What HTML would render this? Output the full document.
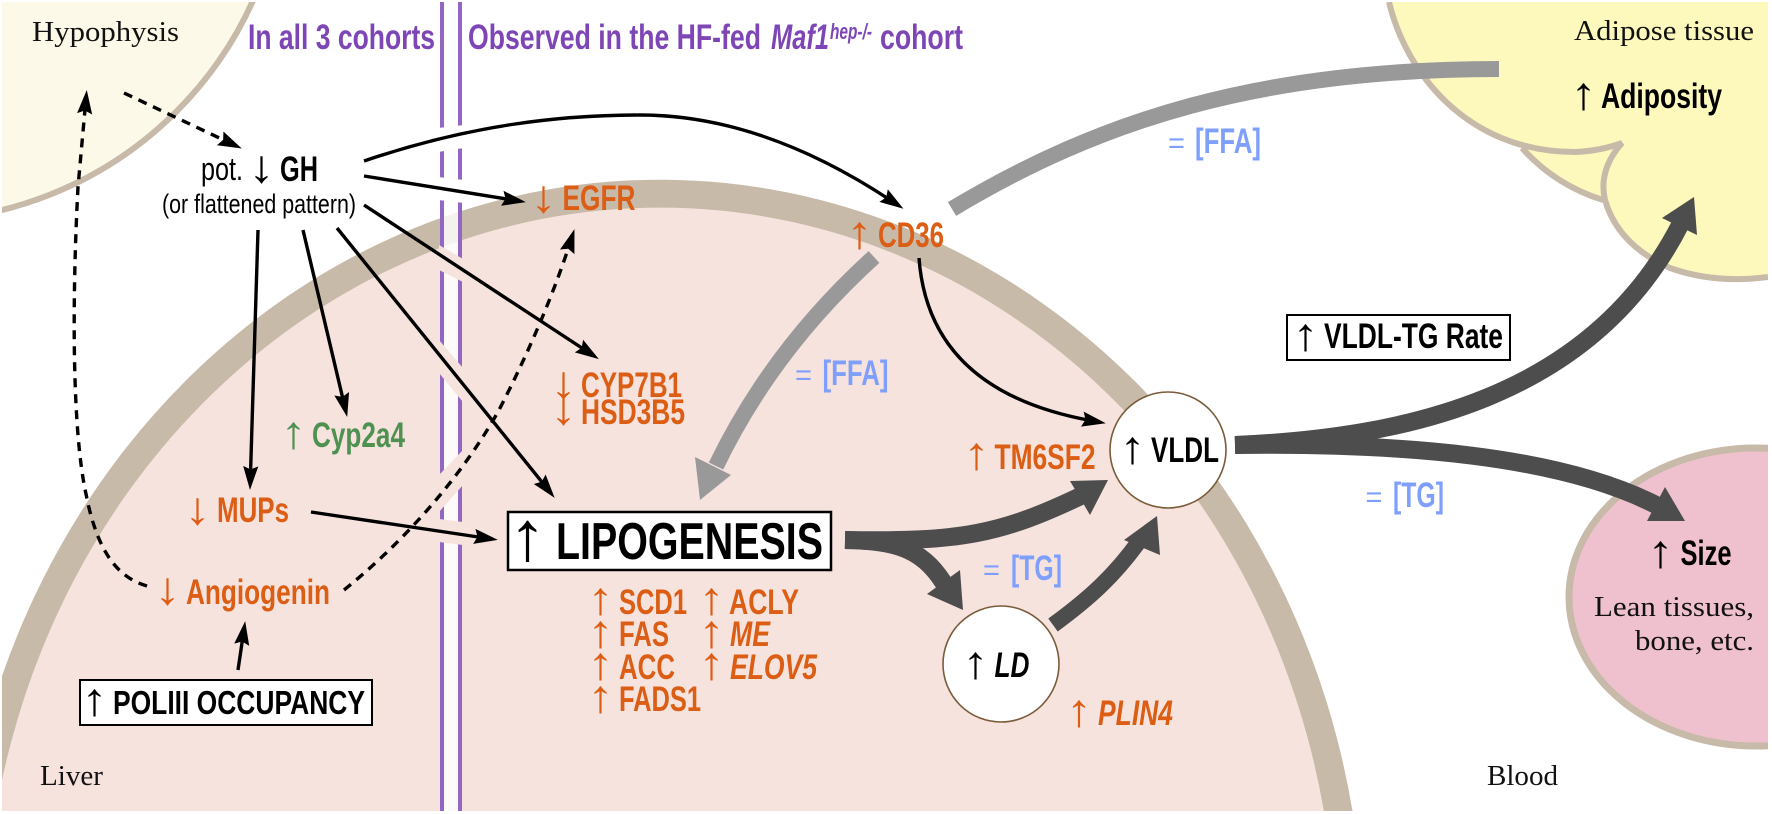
<!DOCTYPE html>
<html><head><meta charset="utf-8"><style>
html,body{margin:0;padding:0;background:#fff;width:1772px;height:814px;overflow:hidden}
svg{display:block}
text{font-family:"Liberation Sans",sans-serif}
.s{font-family:"Liberation Serif",serif;font-size:29px;fill:#111}
.b{font-weight:bold;font-size:35px}
.o{fill:#dc5d14}.g{fill:#4f9150}.k{fill:#000}.p{fill:#7d45b5}.u{fill:#7f9ffd}
.i{font-style:italic}
.a{font-size:46px;font-weight:normal}
.t{fill:none;stroke:#000;stroke-width:3.4}
.d{stroke-dasharray:9 7}
</style></head><body>
<svg width="1772" height="814" viewBox="0 0 1772 814" xmlns="http://www.w3.org/2000/svg">
<defs>
<clipPath id="c"><rect x="2" y="2" width="1766" height="809"/></clipPath>
<marker id="h" markerUnits="userSpaceOnUse" markerWidth="26" markerHeight="18" refX="10" refY="7" orient="auto" viewBox="0 0 24 14"><path d="M0 0L22 7L0 14L3 7z" fill="#000"/></marker>
</defs>
<g clip-path="url(#c)">
<circle cx="-88" cy="-153" r="374" fill="#fdf9e8" stroke="#c8baa9" stroke-width="6"/>
<path d="M2 811V676A704 770 0 0 1 1352.5 811Z" fill="#c8baa9"/>
<path d="M2 811V780A676 743 0 0 1 1323.9 811Z" fill="#f6e3de"/>
<path d="M1389 2C1405 70 1465 152 1575 152Q1600 151 1622 143Q1598 170 1605 200Q1618 245 1670 268Q1715 284 1768 277V2Z" fill="#fdf9bd"/>
<path d="M1522 148Q1555 185 1603 200L1610 170L1622 143L1575 152Z" fill="#fdf9bd"/>
<path d="M1389 2C1405 70 1465 152 1575 152Q1600 151 1622 143Q1598 170 1605 200Q1618 245 1670 268Q1715 284 1768 277M1522 148Q1555 185 1603 200" fill="none" stroke="#c8baa9" stroke-width="6"/>
<ellipse cx="1756" cy="597" rx="187" ry="149" fill="#efc1cf" stroke="#c8baa9" stroke-width="7"/>
</g>
<rect x="444" y="2" width="14" height="809" fill="#fff" opacity=".8"/>
<rect x="440" y="2" width="4" height="809" fill="#9466c4"/>
<rect x="458" y="2" width="4" height="809" fill="#9466c4"/>
<!-- halos -->
<path d="M438 128L464 125V148L438 152Z" fill="#fff"/>
<path d="M438 177L464 180V203L438 200Z" fill="#fff"/>
<path d="M439 245L463 259V282L439 270Z" fill="#f6e3de"/>
<path d="M439 340L463 368V402L439 373Z" fill="#f6e3de"/>
<path d="M439 475L463 450V485L439 512Z" fill="#f6e3de"/>
<path d="M439 519L463 522V545L439 542Z" fill="#f6e3de"/>
<!-- thick arrows -->
<path d="M874 257C810 315 755 385 716 466" fill="none" stroke="#999" stroke-width="16"/>
<path d="M700 500L695 457L731 475Z" fill="#999"/>
<path d="M952 209C1100 120 1260 69 1499 69" fill="none" stroke="#999" stroke-width="16"/>
<g fill="none" stroke="#4d4d4d">
<path d="M845 540C960 542 1000 535 1085 494" stroke-width="18"/>
<path d="M845 540C900 541 925 550 948 590" stroke-width="18"/>
<path d="M1053 625C1090 598 1115 575 1140 540" stroke-width="16"/>
<path d="M1235 445C1400 438 1590 400 1680 225" stroke-width="18"/>
<path d="M1235 445C1400 443 1560 455 1658 506" stroke-width="18"/>
</g>
<g fill="#4d4d4d">
<path d="M1108 480L1070 481L1090 515Z"/>
<path d="M963 610L960 570L927 594Z"/>
<path d="M1157 516L1124 540L1160 555Z"/>
<path d="M1694 197L1662 218L1697 235Z"/>
<path d="M1685 521L1647 521L1665 487Z"/>
</g>
<!-- thin arrows -->
<path class="t d" d="M124 93L230 143" marker-end="url(#h)"/>
<path class="t d" d="M147 586C120 578 98 556 86 494C72 430 72 300 78 187L85.6 103" marker-end="url(#h)"/>
<path class="t d" d="M344 590C400 545 460 480 499 410C530 350 555 290 570.5 241.5" marker-end="url(#h)"/>
<path class="t" d="M364 161C470 125 560 115 640 115C730 115 815 150 892.6 201.6" marker-end="url(#h)"/>
<path class="t" d="M364 176L513 200" marker-end="url(#h)"/>
<path class="t" d="M364 205L588 352" marker-end="url(#h)"/>
<path class="t" d="M337 228L546.5 487.7" marker-end="url(#h)"/>
<path class="t" d="M303 230L344.2 404.3" marker-end="url(#h)"/>
<path class="t" d="M258 230L250.4 477" marker-end="url(#h)"/>
<path class="t" d="M311 512L485 538" marker-end="url(#h)"/>
<path class="t" d="M238 670L243.3 634" marker-end="url(#h)"/>
<path class="t" d="M919 258C925 340 975 400 1093 421" marker-end="url(#h)"/>
<!-- nodes -->
<circle cx="1168" cy="450" r="58" fill="#fff" stroke="#7b5c3a" stroke-width="1.6"/>
<circle cx="1001" cy="664" r="58" fill="#fff" stroke="#7b5c3a" stroke-width="1.6"/>
<rect x="80" y="680" width="292" height="45" fill="#fff" stroke="#000" stroke-width="2"/>
<rect x="508" y="512" width="323" height="58" fill="#fff" stroke="#000" stroke-width="2.5"/>
<rect x="1287" y="315" width="223" height="45" fill="#fff" stroke="#000" stroke-width="2"/>
<!-- serif labels -->
<text class="s" x="32" y="41" textLength="147" lengthAdjust="spacingAndGlyphs">Hypophysis</text>
<text class="s" x="40" y="785" textLength="63" lengthAdjust="spacingAndGlyphs">Liver</text>
<text class="s" x="1487" y="785" textLength="71" lengthAdjust="spacingAndGlyphs">Blood</text>
<text class="s" x="1574" y="40" textLength="180" lengthAdjust="spacingAndGlyphs">Adipose tissue</text>
<text class="s" x="1594" y="616" textLength="160" lengthAdjust="spacingAndGlyphs">Lean tissues,</text>
<text class="s" x="1635" y="650" textLength="119" lengthAdjust="spacingAndGlyphs">bone, etc.</text>
<!-- headers -->
<text class="b p" x="248" y="49" textLength="187" lengthAdjust="spacingAndGlyphs">In all 3 cohorts</text>
<text class="b p" x="468" y="49" textLength="293" lengthAdjust="spacingAndGlyphs">Observed in the HF-fed</text>
<text class="b p i" x="771" y="49" textLength="58" lengthAdjust="spacingAndGlyphs">Maf1</text>
<text class="b p i" x="830" y="39" style="font-size:22px" textLength="42" lengthAdjust="spacingAndGlyphs">hep-/-</text>
<text class="b p" x="880" y="49" textLength="83" lengthAdjust="spacingAndGlyphs">cohort</text>
<!-- GH -->
<text x="201" y="180" style="font-size:32px" textLength="42" lengthAdjust="spacingAndGlyphs">pot.</text>
<text class="a k" x="248.5" y="182" textLength="26" lengthAdjust="spacingAndGlyphs">↓</text>
<text class="b k" x="280" y="181" textLength="38" lengthAdjust="spacingAndGlyphs">GH</text>
<text x="162" y="213" style="font-size:27px" textLength="194" lengthAdjust="spacingAndGlyphs">(or flattened pattern)</text>
<!-- orange genes -->
<text class="a o" x="530.5" y="212" textLength="26" lengthAdjust="spacingAndGlyphs">↓</text>
<text class="b o" x="562.5" y="210" textLength="73" lengthAdjust="spacingAndGlyphs">EGFR</text>
<text class="a o" x="846.5" y="248" textLength="26" lengthAdjust="spacingAndGlyphs">↑</text>
<text class="b o" x="878" y="247" textLength="66" lengthAdjust="spacingAndGlyphs">CD36</text>
<text class="a o" x="550.5" y="398" textLength="26" lengthAdjust="spacingAndGlyphs">↓</text>
<text class="b o" x="581" y="397" textLength="101" lengthAdjust="spacingAndGlyphs">CYP7B1</text>
<text class="a o" x="550.5" y="424" textLength="26" lengthAdjust="spacingAndGlyphs">↓</text>
<text class="b o" x="581" y="424" textLength="104" lengthAdjust="spacingAndGlyphs">HSD3B5</text>
<text class="a g" x="280.5" y="448" textLength="26" lengthAdjust="spacingAndGlyphs">↑</text>
<text class="b g" x="312" y="447" textLength="93" lengthAdjust="spacingAndGlyphs">Cyp2a4</text>
<text class="a o" x="184.5" y="524" textLength="26" lengthAdjust="spacingAndGlyphs">↓</text>
<text class="b o" x="217" y="522" textLength="72" lengthAdjust="spacingAndGlyphs">MUPs</text>
<text class="a o" x="154.5" y="604" textLength="26" lengthAdjust="spacingAndGlyphs">↓</text>
<text class="b o" x="186" y="604" textLength="144" lengthAdjust="spacingAndGlyphs">Angiogenin</text>
<text class="a k" x="81.5" y="715" textLength="26" lengthAdjust="spacingAndGlyphs">↑</text>
<text class="b k" x="113" y="714" style="font-size:33px" textLength="252" lengthAdjust="spacingAndGlyphs">POLIII OCCUPANCY</text>
<text class="k" x="508.5" y="560" style="font-size:70px" textLength="38" lengthAdjust="spacingAndGlyphs">↑</text>
<text class="b k" x="556" y="559" style="font-size:52px" textLength="267" lengthAdjust="spacingAndGlyphs">LIPOGENESIS</text>
<text class="a o" x="587.5" y="614" textLength="26" lengthAdjust="spacingAndGlyphs">↑</text>
<text class="b o" x="619" y="614" textLength="68" lengthAdjust="spacingAndGlyphs">SCD1</text>
<text class="a o" x="587.5" y="647" textLength="26" lengthAdjust="spacingAndGlyphs">↑</text>
<text class="b o" x="619" y="646" textLength="50" lengthAdjust="spacingAndGlyphs">FAS</text>
<text class="a o" x="587.5" y="679" textLength="26" lengthAdjust="spacingAndGlyphs">↑</text>
<text class="b o" x="619" y="679" textLength="56" lengthAdjust="spacingAndGlyphs">ACC</text>
<text class="a o" x="587.5" y="712" textLength="26" lengthAdjust="spacingAndGlyphs">↑</text>
<text class="b o" x="619" y="711" textLength="82" lengthAdjust="spacingAndGlyphs">FADS1</text>
<text class="a o" x="698.5" y="614" textLength="26" lengthAdjust="spacingAndGlyphs">↑</text>
<text class="b o" x="729" y="614" textLength="70" lengthAdjust="spacingAndGlyphs">ACLY</text>
<text class="a o" x="698.5" y="647" textLength="26" lengthAdjust="spacingAndGlyphs">↑</text>
<text class="b o i" x="730" y="646" textLength="40" lengthAdjust="spacingAndGlyphs">ME</text>
<text class="a o" x="698.5" y="679" textLength="26" lengthAdjust="spacingAndGlyphs">↑</text>
<text class="b o i" x="730" y="679" textLength="87" lengthAdjust="spacingAndGlyphs">ELOV5</text>
<text class="a o" x="963.5" y="469" textLength="26" lengthAdjust="spacingAndGlyphs">↑</text>
<text class="b o" x="994.5" y="469" textLength="101" lengthAdjust="spacingAndGlyphs">TM6SF2</text>
<text class="a o" x="1066" y="726" textLength="26" lengthAdjust="spacingAndGlyphs">↑</text>
<text class="b o i" x="1098" y="725" textLength="75" lengthAdjust="spacingAndGlyphs">PLIN4</text>
<!-- node labels -->
<text class="a k" x="1119.5" y="463" textLength="26" lengthAdjust="spacingAndGlyphs">↑</text>
<text class="b k" x="1151" y="462" textLength="68" lengthAdjust="spacingAndGlyphs">VLDL</text>
<text class="a k" x="962.5" y="678" textLength="26" lengthAdjust="spacingAndGlyphs">↑</text>
<text class="b k i" x="994.5" y="677" textLength="35" lengthAdjust="spacingAndGlyphs">LD</text>
<text class="a k" x="1292.5" y="350" textLength="26" lengthAdjust="spacingAndGlyphs">↑</text>
<text class="b k" x="1324" y="348" textLength="179" lengthAdjust="spacingAndGlyphs">VLDL-TG Rate</text>
<text class="a k" x="1570.5" y="109" textLength="26" lengthAdjust="spacingAndGlyphs">↑</text>
<text class="b k" x="1601" y="108" textLength="121" lengthAdjust="spacingAndGlyphs">Adiposity</text>
<text class="a k" x="1647.5" y="567" textLength="26" lengthAdjust="spacingAndGlyphs">↑</text>
<text class="b k" x="1680.5" y="565" textLength="51" lengthAdjust="spacingAndGlyphs">Size</text>
<!-- blue labels -->
<text class="u" x="795" y="385" style="font-size:30px" textLength="17" lengthAdjust="spacingAndGlyphs">=</text>
<text class="b u" x="822.5" y="385" textLength="66" lengthAdjust="spacingAndGlyphs">[FFA]</text>
<text class="u" x="1168" y="153" style="font-size:30px" textLength="17" lengthAdjust="spacingAndGlyphs">=</text>
<text class="b u" x="1195" y="153" textLength="66" lengthAdjust="spacingAndGlyphs">[FFA]</text>
<text class="u" x="983" y="580" style="font-size:30px" textLength="17" lengthAdjust="spacingAndGlyphs">=</text>
<text class="b u" x="1011" y="580" textLength="51" lengthAdjust="spacingAndGlyphs">[TG]</text>
<text class="u" x="1365.5" y="507" style="font-size:30px" textLength="17" lengthAdjust="spacingAndGlyphs">=</text>
<text class="b u" x="1393" y="507" textLength="51" lengthAdjust="spacingAndGlyphs">[TG]</text>
</svg>
</body></html>
